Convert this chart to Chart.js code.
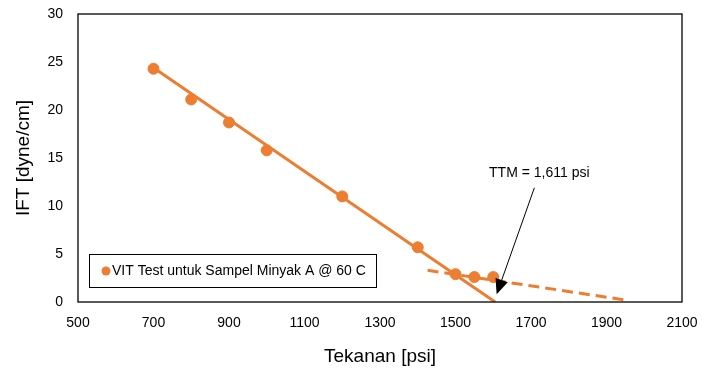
<!DOCTYPE html>
<html>
<head>
<meta charset="utf-8">
<script src="https://cdn.jsdelivr.net/npm/chart.js@4/dist/chart.umd.min.js"></script>
<style>
  html, body { margin: 0; padding: 0; background: #fff; }
  #wrap { width: 702px; height: 380px; }
</style>
</head>
<body>
<div id="wrap"><canvas id="iftChart" width="702" height="380"></canvas></div>
<script>
// data
var pressure = [700, 800, 900, 1000, 1200, 1400, 1500, 1550, 1600];
var ift = [24.3, 21.1, 18.7, 15.8, 11.0, 5.7, 2.9, 2.6, 2.6];

// trend lines (end points)
var trendX = [700, 1605];
var trendY = [24.4, 0];
var flatX = [1426, 1951];
var flatY = [3.3, 0.2];

// annotation: arrow start -> tip, label position
var arrowX = [1709, 1609];
var arrowY = [11.9, 0.8];
var labelText = 'TTM = 1,611 psi';
var labelPos = [1722, 13.4];

var xTicks = [500, 700, 900, 1100, 1300, 1500, 1700, 1900, 2100];
var yTicks = [0, 5, 10, 15, 20, 25, 30];

var seriesName = 'VIT Test untuk Sampel Minyak A @ 60 C';
var orange = '#ED7D31';

function toPoints(xs, ys) {
    return xs.map(function (x, i) { return { x: x, y: ys[i] }; });
}

var extras = {
    id: 'extras',
    afterDraw: function (chart) {
        var ctx = chart.ctx;
        var a = chart.chartArea;
        var xs = chart.scales.x, ys = chart.scales.y;
        ctx.save();

        // plot frame
        ctx.strokeStyle = '#000';
        ctx.lineWidth = 1.3;
        ctx.strokeRect(a.left, a.top, a.right - a.left, a.bottom - a.top);

        // arrow
        var x1 = xs.getPixelForValue(arrowX[0]), y1 = ys.getPixelForValue(arrowY[0]);
        var x2 = xs.getPixelForValue(arrowX[1]), y2 = ys.getPixelForValue(arrowY[1]);
        var ang = Math.atan2(y2 - y1, x2 - x1);
        var headLen = 15, headW = 6.5;
        ctx.strokeStyle = '#000';
        ctx.lineWidth = 1;
        ctx.beginPath();
        ctx.moveTo(x1, y1);
        ctx.lineTo(x2 - headLen * Math.cos(ang), y2 - headLen * Math.sin(ang));
        ctx.stroke();
        ctx.fillStyle = '#000';
        ctx.beginPath();
        ctx.moveTo(x2, y2);
        ctx.lineTo(x2 - headLen * Math.cos(ang) + headW * Math.sin(ang), y2 - headLen * Math.sin(ang) - headW * Math.cos(ang));
        ctx.lineTo(x2 - headLen * Math.cos(ang) - headW * Math.sin(ang), y2 - headLen * Math.sin(ang) + headW * Math.cos(ang));
        ctx.closePath();
        ctx.fill();

        // label
        ctx.font = '14px "Liberation Sans", Arial, sans-serif';
        ctx.textAlign = 'center';
        ctx.textBaseline = 'middle';
        ctx.fillText(labelText, xs.getPixelForValue(labelPos[0]), ys.getPixelForValue(labelPos[1]));

        // legend box
        var lx = a.left + 11, ly = a.bottom - 48, lw = 287, lh = 33;
        ctx.fillStyle = '#fff';
        ctx.fillRect(lx, ly, lw, lh);
        ctx.strokeStyle = '#000';
        ctx.lineWidth = 1;
        ctx.strokeRect(lx + 0.5, ly + 0.5, lw, lh);
        ctx.fillStyle = orange;
        ctx.beginPath();
        ctx.arc(lx + 17, ly + lh / 2 + 0.5, 4.5, 0, Math.PI * 2);
        ctx.fill();
        ctx.fillStyle = '#000';
        ctx.font = '14px "Liberation Sans", Arial, sans-serif';
        ctx.textAlign = 'left';
        ctx.fillText(seriesName, lx + 23, ly + lh / 2 + 1);

        ctx.restore();
    }
};

var ctx = document.getElementById('iftChart').getContext('2d');
var iftChart = new Chart(ctx, {
    type: 'scatter',
    data: {
        datasets: [
            {
                label: seriesName,
                data: toPoints(pressure, ift),
                backgroundColor: orange,
                borderColor: orange,
                pointRadius: 5.5,
                pointHoverRadius: 5.5,
                showLine: false,
                order: 0
            },
            {
                label: 'trend',
                data: toPoints(trendX, trendY),
                borderColor: orange,
                borderWidth: 3,
                pointRadius: 0,
                showLine: true,
                order: 1
            },
            {
                label: 'trend2',
                data: toPoints(flatX, flatY),
                borderColor: orange,
                borderWidth: 3,
                borderDash: [11, 6],
                pointRadius: 0,
                showLine: true,
                order: 1
            }
        ]
    },
    options: {
        responsive: false,
        animation: false,
        layout: { padding: { left: 0, right: 20, top: 14, bottom: 0 } },
        plugins: {
            legend: { display: false },
            tooltip: { enabled: false }
        },
        scales: {
            x: {
                type: 'linear',
                min: 500,
                max: 2100,
                grid: { display: false, drawTicks: false },
                border: { display: false },
                afterBuildTicks: function (s) { s.ticks = xTicks.map(function (v) { return { value: v }; }); },
                afterFit: function (s) { s.height = 78; s.paddingLeft = 0; s.paddingRight = 0; },
                ticks: {
                    padding: 13,
                    color: '#000',
                    font: { family: '"Liberation Sans", Arial, sans-serif', size: 14 },
                    callback: function (v) { return String(v); }
                },
                title: {
                    display: true,
                    text: 'Tekanan [psi]',
                    color: '#000',
                    padding: { top: 0, bottom: 12 },
                    font: { family: '"Liberation Sans", Arial, sans-serif', size: 19 }
                }
            },
            y: {
                min: 0,
                max: 30,
                grid: { display: false, drawTicks: false },
                border: { display: false },
                afterBuildTicks: function (s) { s.ticks = yTicks.map(function (v) { return { value: v }; }); },
                afterFit: function (s) { s.width = 78; s.paddingTop = 0; s.paddingBottom = 0; },
                ticks: {
                    padding: 15,
                    color: '#000',
                    font: { family: '"Liberation Sans", Arial, sans-serif', size: 14 },
                    callback: function (v) { return String(v); }
                },
                title: {
                    display: true,
                    text: 'IFT [dyne/cm]',
                    color: '#000',
                    padding: { top: 12, bottom: 0 },
                    font: { family: '"Liberation Sans", Arial, sans-serif', size: 19 }
                }
            }
        }
    },
    plugins: [extras]
});
</script>
</body>
</html>
